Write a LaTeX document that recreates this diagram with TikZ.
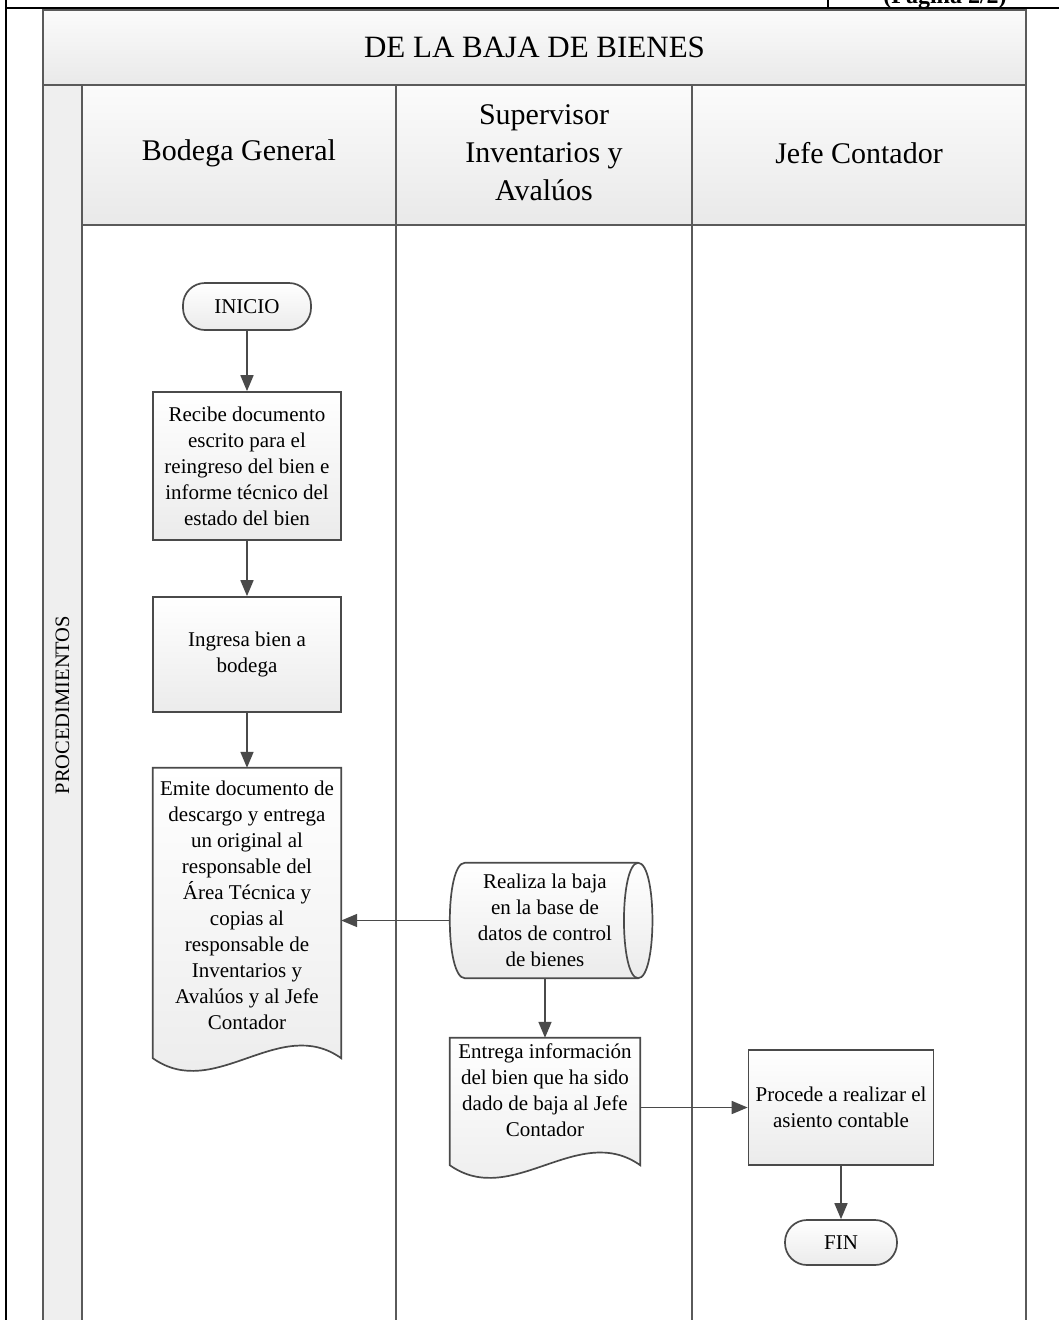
\documentclass[tikz,border=0pt]{standalone}
\usepackage{fontspec}
\setmainfont{Liberation Serif}
\usetikzlibrary{arrows.meta,calc,backgrounds}
\definecolor{linecol}{HTML}{4A4A4A}
\definecolor{poolcol}{HTML}{5A5A5A}
\definecolor{paneltop}{HTML}{FBFBFB}
\definecolor{panelbot}{HTML}{E9E9E9}
\definecolor{sidecol}{HTML}{EFEFEF}
\definecolor{shapebot}{HTML}{EBEBEB}
\newcommand{\boxfont}{\fontsize{21}{26}\selectfont}
\newcommand{\lanefont}{\fontsize{30}{38}\selectfont}
\tikzset{
  flowline/.style={draw=linecol, line width=1.7pt},
  arr/.style={flowline, -{Triangle[length=16pt,width=13pt]}},
  procbox/.style={rectangle, draw=linecol, line width=1.7pt, top color=white,
    bottom color=shapebot, align=center, font=\boxfont, inner sep=4pt},
  termbox/.style={procbox, rounded corners=22pt},
  plain/.style={align=center, font=\boxfont, inner sep=0pt},
  docfill/.style={draw=linecol, line width=1.7pt, top color=white, bottom color=shapebot},
  poolline/.style={draw=poolcol, line width=1.6pt},
  lanehead/.style={font=\lanefont, align=center, inner sep=0pt},
}
\begin{document}
\begin{tikzpicture}[x=1pt,y=-1pt]
\useasboundingbox (0,0) rectangle (1059,1320);

% page frame of the surrounding form
\draw[line width=2.5pt, black] (6,0) -- (6,1320);
\draw[line width=2.5pt, black] (5,8) -- (1059,8);
\draw[line width=2pt, black] (828,0) -- (828,8);
\begin{scope}
  \clip (830,0) rectangle (1059,6.5);
  \node[font=\bfseries\fontsize{24}{28}\selectfont, anchor=base, inner sep=0pt] (pagelabel) at (945,3.5) {(Página 2/2)};
\end{scope}

% swimlane pool
\begin{scope}[on background layer]
  \fill[sidecol] (43,85) rectangle (82,1330);
  \shade[top color=paneltop, bottom color=panelbot] (43,10) rectangle (1026,85);
  \shade[top color=paneltop, bottom color=panelbot] (82,85) rectangle (1026,225);
  \draw[poolline] (43,1330) -- (43,10) -- (1026,10) -- (1026,1330);
  \draw[poolline] (43,85) -- (1026,85);
  \draw[poolline] (82,85) -- (82,1330);
  \draw[poolline] (82,225) -- (1026,225);
  \draw[poolline] (396,85) -- (396,1330);
  \draw[poolline] (692,85) -- (692,1330);
\end{scope}

\node[font=\fontsize{31}{36}\selectfont, inner sep=0pt] (title) at (534.5,47.5) {DE LA BAJA DE BIENES};
\node[lanehead] (lane1) at (239,153.5) {Bodega General};
\node[lanehead] (lane2) at (544,153) {Supervisor\\Inventarios y\\Avalúos};
\node[lanehead] (lane3) at (859,153.5) {Jefe Contador};
\node[font=\fontsize{20.5}{24}\selectfont, rotate=90, inner sep=0pt] (side) at (62.5,705) {PROCEDIMIENTOS};

% flow steps
\node[termbox, minimum width=128pt, minimum height=47pt] (inicio) at (247,306.5) {INICIO};
\node[procbox, minimum width=188pt, minimum height=148pt] (recibe) at (247,466) {Recibe documento\\escrito para el\\reingreso del bien e\\informe técnico del\\estado del bien};
\node[procbox, minimum width=188pt, minimum height=115pt] (ingresa) at (247,654.5) {Ingresa bien a\\bodega};
\node[plain, minimum width=188pt, minimum height=274pt] (emite) at (247,905) {Emite documento de\\descargo y entrega\\un original al\\responsable del\\Área Técnica y\\copias al\\responsable de\\Inventarios y\\Avalúos y al Jefe\\Contador};
\node[plain, minimum width=190pt, minimum height=115pt] (cyl) at (545,920.5) {Realiza la baja\\en la base de\\datos de control\\de bienes};
\node[plain, minimum width=190pt, minimum height=104pt] (entrega) at (545,1090) {Entrega información\\del bien que ha sido\\dado de baja al Jefe\\Contador};
\node[procbox, minimum width=185pt, minimum height=115pt] (asiento) at (841,1107.5) {Procede a realizar el\\asiento contable};
\node[termbox, minimum width=112pt, minimum height=45pt] (fin) at (841,1242.5) {FIN};

% outlines of the document and storage shapes
\begin{scope}[on background layer]
  \path[docfill] (emite.north west) -- (emite.north east) -- ($(emite.south east)+(0,16)$)
    .. controls +(-62,-44) and +(62,44) .. ($(emite.south west)+(0,16)$) -- cycle;
  \path[docfill] (entrega.north west) -- (entrega.north east) -- ($(entrega.south east)+(0,23)$)
    .. controls +(-62,-44) and +(62,44) .. ($(entrega.south west)+(0,23)$) -- cycle;
  \path[docfill] ($(cyl.north west)+(15,0)$) -- ($(cyl.north east)+(-2,0)$)
    .. controls +(19,0) and +(19,0) .. ($(cyl.south east)+(-2,0)$)
    -- ($(cyl.south west)+(15,0)$)
    .. controls +(-20,0) and +(-20,0) .. ($(cyl.north west)+(15,0)$) -- cycle;
  \draw[flowline] ($(cyl.north east)+(-2,0)$) .. controls +(-19,0) and +(-19,0) .. ($(cyl.south east)+(-2,0)$);
\end{scope}

% connectors
\draw[arr] (inicio.south) -- (recibe.north);
\draw[arr] (recibe.south) -- (ingresa.north);
\draw[arr] (ingresa.south) -- (emite.north);
\draw[arr] (cyl.west) -- (cyl.west -| emite.east);
\draw[arr] (cyl.south) -- (entrega.north);
\draw[arr] (entrega.east |- asiento.west) -- (asiento.west);
\draw[arr] (asiento.south) -- (fin.north);
\end{tikzpicture}
\end{document}
